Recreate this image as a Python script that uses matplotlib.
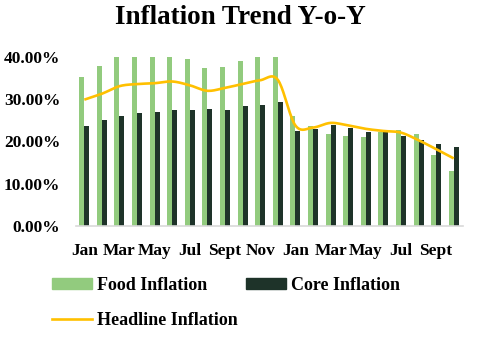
import matplotlib.pyplot as plt
from matplotlib.patches import Patch
from matplotlib.lines import Line2D
from matplotlib.ticker import FuncFormatter
import numpy as np

# Months: Jan of year 1 through Oct of year 2
months = ['Jan', 'Feb', 'Mar', 'Apr', 'May', 'Jun', 'Jul', 'Aug', 'Sept', 'Oct', 'Nov', 'Dec',
          'Jan', 'Feb', 'Mar', 'Apr', 'May', 'Jun', 'Jul', 'Aug', 'Sept', 'Oct']

# Values in percent
food = [35.3, 37.9, 40.0, 40.0, 40.0, 40.0, 39.5, 37.5, 37.7, 39.1, 40.0, 40.0,
        26.0, 23.6, 21.7, 21.2, 21.0, 22.3, 22.7, 21.8, 16.7, 12.9]
core = [23.6, 25.2, 26.0, 26.8, 27.1, 27.4, 27.5, 27.6, 27.5, 28.4, 28.7, 29.3,
        22.6, 23.0, 23.8, 23.3, 22.3, 22.7, 21.2, 20.3, 19.5, 18.6]
headline = [29.9, 31.3, 33.1, 33.6, 33.8, 34.2, 33.3, 32.0, 32.7, 33.6, 34.5, 34.6,
            23.8, 23.3, 24.4, 23.8, 23.0, 22.5, 22.1, 20.3, 18.2, 16.0]

FOOD_C = '#92CB7E'
CORE_C = '#1E3329'
HEAD_C = '#FFC000'
SERIF = 'Liberation Serif'


def smooth(xs, ys, n=20):
    # Excel-like smoothed line: cubic Bezier through each point
    xs = np.asarray(xs, float)
    ys = np.asarray(ys, float)
    px, py = [], []
    for i in range(len(xs) - 1):
        i0, i3 = max(i - 1, 0), min(i + 2, len(xs) - 1)
        c1x = xs[i] + (xs[i + 1] - xs[i0]) / 6
        c1y = ys[i] + (ys[i + 1] - ys[i0]) / 6
        c2x = xs[i + 1] - (xs[i3] - xs[i]) / 6
        c2y = ys[i + 1] - (ys[i3] - ys[i]) / 6
        t = np.linspace(0, 1, n)
        px.extend((1 - t)**3 * xs[i] + 3 * (1 - t)**2 * t * c1x + 3 * (1 - t) * t**2 * c2x + t**3 * xs[i + 1])
        py.extend((1 - t)**3 * ys[i] + 3 * (1 - t)**2 * t * c1y + 3 * (1 - t) * t**2 * c2y + t**3 * ys[i + 1])
    return px, py


fig = plt.figure(figsize=(4.91, 3.38), dpi=100)
ax = fig.add_axes([75.5 / 491, 1 - 226 / 338, 387 / 491, (226 - 57) / 338])

x = np.arange(len(months))
w = 0.285
ax.bar(x - w / 2, food, width=w, color=FOOD_C, zorder=2)
ax.bar(x + w / 2, core, width=w, color=CORE_C, zorder=2)
sx, sy = smooth(x, headline)
ax.plot(sx, sy, color=HEAD_C, lw=1.9, zorder=3, solid_capstyle='butt')

ax.set_xlim(-0.5, len(months) - 0.5)
ax.set_ylim(0, 40)
ax.set_yticks([0, 10, 20, 30, 40])
ax.yaxis.set_major_formatter(FuncFormatter(lambda v, p: f'{v:.2f}%'))
ax.set_xticks(x[::2])
ax.set_xticklabels(months[::2])

for s in ['top', 'right', 'left']:
    ax.spines[s].set_visible(False)
ax.spines['bottom'].set_color('#D9D9D9')
ax.spines['bottom'].set_linewidth(1.2)
ax.tick_params(axis='both', length=0)
ax.tick_params(axis='y', pad=11)
ax.tick_params(axis='x', pad=12)
for lab in ax.get_xticklabels() + ax.get_yticklabels():
    lab.set_fontfamily(SERIF)
    lab.set_fontweight('bold')
    lab.set_fontsize(12.5)

fig.text(240.5 / 491, 1 - 18 / 338, 'Inflation Trend Y-o-Y', ha='center', va='center',
         fontfamily=SERIF, fontweight='bold', fontsize=19.5)

handles = [Patch(color=FOOD_C, label='Food Inflation'),
           Line2D([], [], color=HEAD_C, lw=1.9, label='Headline Inflation'),
           Patch(color=CORE_C, label='Core Inflation')]
fig.legend(handles=handles, ncol=2, loc='upper left', bbox_to_anchor=(52 / 491, 1 - 277 / 338),
           frameon=False, borderpad=0, borderaxespad=0, handlelength=2.2, handleheight=0.55,
           handletextpad=0.3, labelspacing=1.0, columnspacing=0.45,
           prop={'family': SERIF, 'weight': 'bold', 'size': 13})

fig.savefig('out.png', dpi=100)
